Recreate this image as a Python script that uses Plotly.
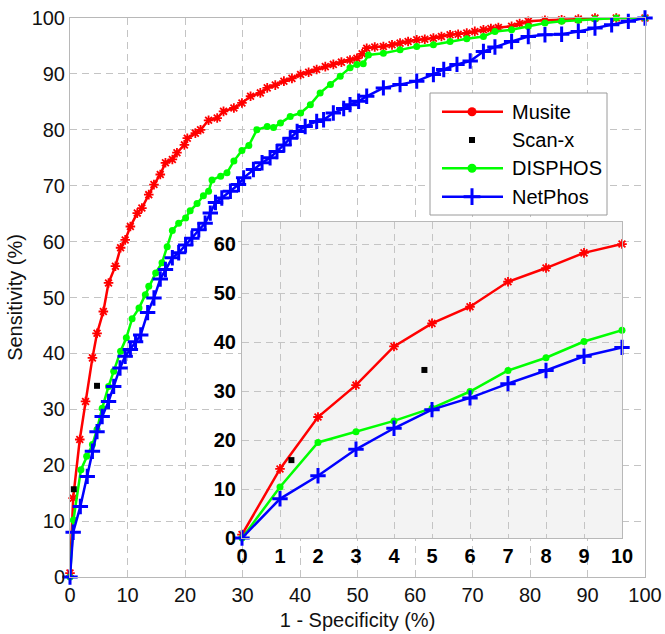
import plotly.graph_objects as go

# ---- ROC curves, 1 - specificity (%) vs sensitivity (%) ----
musite_x = [0, 0.55, 1.7, 2.7, 3.9, 4.7, 5.8, 6.7, 7.9, 8.8, 9.6, 10.5, 11.7, 12.5, 13.7, 14.6,
            15.7, 16.6, 17.8, 18.6, 19.9, 20.4, 21.8, 22.7, 24.1, 25.6, 26.7, 28.5, 29.9, 31.4,
            33.1, 34.3, 35.7, 37.2, 38.6, 40.1, 41.5, 42.9, 44.4, 45.8, 47.2, 48.7, 49.9, 50.8,
            51.6, 53.0, 54.5, 56.0, 57.4, 58.8, 60.3, 61.7, 63.2, 64.6, 66.1, 67.5, 69.0, 70.4,
            71.9, 73.2, 74.5, 76.8, 78.2, 79.7, 82.6, 85.5, 88.4, 91.3, 95.0, 100]
musite_y = [0.7, 14.1, 24.6, 31.4, 39.2, 43.6, 47.5, 52.6, 55.6, 58.9, 60.3, 62.7, 65.1, 66.0, 68.4, 70.2,
            72.0, 74.1, 74.7, 75.9, 77.3, 78.5, 79.4, 80.0, 81.7, 82.1, 83.3, 83.9, 84.8, 86.0,
            86.6, 87.5, 88.0, 88.7, 89.2, 89.9, 90.3, 90.8, 91.3, 91.7, 92.1, 92.5, 92.8, 93.6,
            94.6, 94.8, 94.9, 95.2, 95.5, 95.8, 96.1, 96.2, 96.4, 96.7, 97.0, 97.1, 97.3, 97.6,
            97.9, 98.1, 98.3, 98.5, 99.0, 99.4, 99.6, 99.7, 99.8, 100, 100, 100]

disphos_x = [0, 0.6, 1.9, 2.9, 3.9, 4.7, 5.6, 6.7, 7.6, 8.8, 9.8, 10.8, 12.0, 13.1, 13.7, 14.9,
             16.0, 16.9, 17.8, 18.9, 20.1, 20.9, 22.1, 23.2, 24.1, 24.7, 26.2, 27.3, 28.5, 29.9,
             31.1, 32.5, 34.3, 35.4, 36.6, 38.3, 40.1, 41.8, 43.5, 45.3, 47.0, 48.7, 49.9, 51.0,
             51.9, 54.5, 57.4, 60.3, 63.2, 66.1, 69.0, 71.9, 73.9, 76.8, 79.7, 82.6, 85.5, 88.4,
             91.3, 95.0, 100]
disphos_y = [0, 10.2, 19.2, 21.6, 23.7, 26.4, 30.2, 34.1, 36.8, 40.4, 42.8, 46.2, 48.1, 50.5, 52.0, 54.4,
             56.2, 59.1, 62.0, 63.3, 64.2, 65.5, 66.8, 68.2, 69.0, 71.0, 71.7, 72.3, 74.4, 76.3,
             77.2, 80.0, 80.6, 80.4, 81.2, 82.4, 83.0, 84.5, 86.6, 88.1, 89.6, 91.1, 91.7, 91.8,
             93.4, 93.7, 94.3, 94.9, 95.2, 95.8, 96.3, 96.7, 97.6, 97.9, 98.5, 99.1, 99.4, 99.6,
             99.8, 100, 100]

netphos_x = [0, 0.55, 1.8, 3.0, 3.9, 4.7, 5.6, 6.7, 7.6, 8.7, 9.6, 10.5, 11.4, 12.3, 13.5, 14.6,
             15.7, 16.6, 17.8, 18.9, 20.1, 21.2, 22.4, 23.5, 24.4, 25.3, 26.4, 27.9, 29.3, 30.2,
             31.9, 33.4, 34.8, 36.0, 37.2, 38.3, 39.5, 40.9, 42.9, 44.1, 45.8, 47.6, 48.7, 50.2,
             51.6, 54.5, 57.4, 60.3, 63.2, 65.0, 67.3, 69.6, 71.9, 73.9, 76.8, 79.7, 82.6, 85.5,
             88.4, 91.3, 94.2, 97.1, 100]
netphos_y = [0, 8.0, 12.6, 18.0, 22.5, 26.0, 28.7, 31.4, 34.1, 37.4, 39.5, 40.7, 42.1, 43.3, 47.3, 49.9,
             53.3, 55.0, 57.1, 58.0, 59.4, 60.6, 62.1, 63.3, 65.1, 67.0, 67.8, 69.0, 70.2, 71.4,
             72.9, 74.1, 75.0, 76.1, 77.3, 78.5, 79.7, 80.6, 81.5, 81.8, 83.0, 83.8, 84.5, 85.1,
             86.0, 87.5, 88.1, 88.7, 89.9, 90.8, 91.7, 92.3, 94.0, 94.8, 95.8, 96.7, 97.0, 97.1,
             97.6, 98.2, 98.8, 99.4, 100]

scanx_x = [0.66, 4.7]
scanx_y = [15.7, 34.2]

# ---- inset: low false-positive region ----
inset_x = [0, 1, 2, 3, 4, 5, 6, 7, 8, 9, 10]
inset_musite = [0.7, 14.1, 24.7, 31.2, 39.1, 43.8, 47.2, 52.3, 55.1, 58.2, 60.0]
inset_disphos = [0, 10.4, 19.5, 21.7, 23.9, 26.5, 29.9, 34.2, 36.8, 40.1, 42.4]
inset_netphos = [0, 8.0, 12.7, 18.1, 22.4, 26.2, 28.6, 31.5, 34.2, 37.1, 38.9]
inset_scanx_x = [1.3, 4.8]
inset_scanx_y = [15.9, 34.3]

main_ticks = list(range(0, 101, 10))
inset_xticks = list(range(0, 11))
inset_yticks = list(range(0, 61, 10))

legend_names = ["Musite", "Scan-x", "DISPHOS", "NetPhos"]

RED, GREEN, BLUE = "#ff0000", "#00ff00", "#0000ff"
FONT = "Liberation Sans, Arial, sans-serif"

# plot area in pixels (used to place the hand-drawn legend)
W, H = 665, 634
ML, MR, MT, MB = 70, 20, 18, 57
PW, PH = W - ML - MR, H - MT - MB


def px(x):
    return (x - ML) / PW


def py(y):
    return (H - MB - y) / PH


def red_style():
    return dict(line=dict(color=RED, width=2.5),
                marker=dict(symbol="asterisk-open", size=8, color=RED, line=dict(color=RED, width=1.8)))


def green_style():
    return dict(line=dict(color=GREEN, width=2.5),
                marker=dict(symbol="circle", size=7, color=GREEN, line=dict(width=0)))


def blue_style():
    return dict(line=dict(color=BLUE, width=2.5),
                marker=dict(symbol="cross-thin-open", size=11, color=BLUE, line=dict(color=BLUE, width=3)))


fig = go.Figure()

# main curves
fig.add_trace(go.Scatter(x=musite_x, y=musite_y, mode="lines+markers", name="Musite",
                         cliponaxis=False, **red_style()))
fig.add_trace(go.Scatter(x=disphos_x, y=disphos_y, mode="lines+markers", name="DISPHOS",
                         cliponaxis=False, **green_style()))
fig.add_trace(go.Scatter(x=netphos_x, y=netphos_y, mode="lines+markers", name="NetPhos",
                         cliponaxis=False, **blue_style()))
fig.add_trace(go.Scatter(x=scanx_x, y=scanx_y, mode="markers", name="Scan-x", cliponaxis=False,
                         marker=dict(symbol="square", size=6, color="black")))

# inset curves
fig.add_trace(go.Scatter(x=inset_x, y=inset_musite, mode="lines+markers", cliponaxis=False,
                         xaxis="x2", yaxis="y2", **red_style()))
fig.add_trace(go.Scatter(x=inset_x, y=inset_disphos, mode="lines+markers", cliponaxis=False,
                         xaxis="x2", yaxis="y2", **green_style()))
fig.add_trace(go.Scatter(x=inset_x, y=inset_netphos, mode="lines+markers", cliponaxis=False,
                         xaxis="x2", yaxis="y2", **blue_style()))
fig.add_trace(go.Scatter(x=inset_scanx_x, y=inset_scanx_y, mode="markers", cliponaxis=False,
                         xaxis="x2", yaxis="y2",
                         marker=dict(symbol="square", size=6, color="black")))

# legend box, drawn on a transparent overlay subplot spanning the plot area
box_l, box_r, box_t, box_b = 430, 607, 93, 215
row_y = [111.7, 140.0, 168.3, 196.7]
line_l, line_r, mark_x, text_x = 442, 503, 472, 510
legend_glyphs = [
    dict(line=RED, marker=dict(symbol="circle", size=9, color=RED)),
    dict(line=None, marker=dict(symbol="square", size=6, color="black")),
    dict(line=GREEN, marker=dict(symbol="circle", size=9, color=GREEN)),
    dict(line=BLUE, marker=dict(symbol="cross-thin-open", size=12, color=BLUE,
                                line=dict(color=BLUE, width=3))),
]
annotations = []
for name, yy, g in zip(legend_names, row_y, legend_glyphs):
    if g["line"]:
        fig.add_trace(go.Scatter(x=[px(line_l), px(line_r)], y=[py(yy), py(yy)], mode="lines",
                                 line=dict(color=g["line"], width=2.5), xaxis="x3", yaxis="y3",
                                 hoverinfo="skip", cliponaxis=False))
    fig.add_trace(go.Scatter(x=[px(mark_x)], y=[py(yy)], mode="markers", marker=g["marker"],
                             xaxis="x3", yaxis="y3", hoverinfo="skip", cliponaxis=False))
    annotations.append(dict(x=px(text_x), y=py(yy), xref="x3", yref="y3", text=name,
                            showarrow=False, xanchor="left", yanchor="middle",
                            font=dict(size=20, family=FONT, color="black")))

grid = dict(showgrid=True, gridcolor="#c4c4c4", griddash="7px,5px", gridwidth=1,
            showline=True, linecolor="#b8b8b8", linewidth=1, mirror=True,
            zeroline=False, ticks="", automargin=False)

fig.update_layout(
    width=W, height=H,
    margin=dict(l=ML, r=MR, t=MT, b=MB),
    paper_bgcolor="white", plot_bgcolor="rgba(0,0,0,0)",
    font=dict(family=FONT, color="#111111"),
    showlegend=False,
    xaxis=dict(range=[0, 100], tickvals=main_ticks, domain=[0, 1],
               tickfont=dict(size=20, family=FONT, color="#111111"),
               title=dict(text="1 - Specificity (%)", font=dict(size=20, family=FONT), standoff=7),
               **grid),
    yaxis=dict(range=[0, 100], tickvals=main_ticks, domain=[0, 1],
               tickfont=dict(size=20, family=FONT, color="#111111"),
               title=dict(text="Sensitivity (%)", font=dict(size=20, family=FONT), standoff=3),
               **grid),
    xaxis2=dict(range=[0, 10], tickvals=inset_xticks, domain=[px(242), px(622)], anchor="y2",
                tickfont=dict(size=20, family=FONT, color="black", weight="bold"),
                **grid),
    yaxis2=dict(range=[0, 64.5], tickvals=inset_yticks, domain=[py(538), py(222)], anchor="x2",
                tickfont=dict(size=20, family=FONT, color="black", weight="bold"),
                ticklabelstandoff=1,
                **grid),
    xaxis3=dict(range=[0, 1], domain=[0, 1], anchor="y3", visible=False, fixedrange=True),
    yaxis3=dict(range=[0, 1], domain=[0, 1], anchor="x3", visible=False, fixedrange=True),
    shapes=[
        dict(type="rect", xref="x2", yref="y2", x0=0, x1=10, y0=0, y1=64.5,
             fillcolor="#f3f3f3", line=dict(width=0), layer="below"),
        dict(type="rect", xref="x3", yref="y3", x0=px(box_l), x1=px(box_r), y0=py(box_b), y1=py(box_t),
             fillcolor="white", line=dict(color="#9a9a9a", width=1), layer="below"),
    ],
    annotations=annotations,
)

fig.write_html("out.html")
